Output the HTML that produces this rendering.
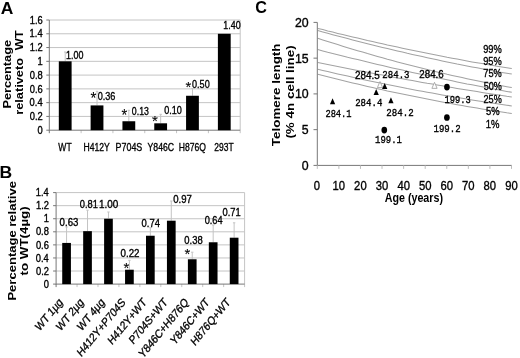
<!DOCTYPE html>
<html><head><meta charset="utf-8"><style>
html,body{margin:0;padding:0;background:#fff;}
svg{display:block;filter:grayscale(1);}
</style></head><body>
<svg width="520" height="358" viewBox="0 0 520 358" shape-rendering="auto">
<rect width="520" height="358" fill="#fff"/>
<text transform="translate(0.86,13.60) scale(1.066,1)" font-size="16.38" font-weight="bold" font-family='"Liberation Sans", sans-serif' fill="#000">A</text>
<line x1="49.30" y1="116.42" x2="240.20" y2="116.42" stroke="#c4c4c4" stroke-width="1.0"/>
<line x1="49.30" y1="102.65" x2="240.20" y2="102.65" stroke="#c4c4c4" stroke-width="1.0"/>
<line x1="49.30" y1="88.88" x2="240.20" y2="88.88" stroke="#c4c4c4" stroke-width="1.0"/>
<line x1="49.30" y1="75.10" x2="240.20" y2="75.10" stroke="#c4c4c4" stroke-width="1.0"/>
<line x1="49.30" y1="61.33" x2="240.20" y2="61.33" stroke="#c4c4c4" stroke-width="1.0"/>
<line x1="49.30" y1="47.55" x2="240.20" y2="47.55" stroke="#c4c4c4" stroke-width="1.0"/>
<line x1="49.30" y1="33.78" x2="240.20" y2="33.78" stroke="#c4c4c4" stroke-width="1.0"/>
<line x1="49.30" y1="20.00" x2="240.20" y2="20.00" stroke="#c4c4c4" stroke-width="1.0"/>
<line x1="240.20" y1="20.00" x2="240.20" y2="130.20" stroke="#c4c4c4" stroke-width="1.0"/>
<line x1="46.30" y1="130.20" x2="49.30" y2="130.20" stroke="#777777" stroke-width="1.0"/>
<line x1="46.30" y1="116.42" x2="49.30" y2="116.42" stroke="#777777" stroke-width="1.0"/>
<line x1="46.30" y1="102.65" x2="49.30" y2="102.65" stroke="#777777" stroke-width="1.0"/>
<line x1="46.30" y1="88.88" x2="49.30" y2="88.88" stroke="#777777" stroke-width="1.0"/>
<line x1="46.30" y1="75.10" x2="49.30" y2="75.10" stroke="#777777" stroke-width="1.0"/>
<line x1="46.30" y1="61.33" x2="49.30" y2="61.33" stroke="#777777" stroke-width="1.0"/>
<line x1="46.30" y1="47.55" x2="49.30" y2="47.55" stroke="#777777" stroke-width="1.0"/>
<line x1="46.30" y1="33.78" x2="49.30" y2="33.78" stroke="#777777" stroke-width="1.0"/>
<line x1="46.30" y1="20.00" x2="49.30" y2="20.00" stroke="#777777" stroke-width="1.0"/>
<text transform="translate(37.45,133.86) scale(0.880,1)" font-size="10.60" font-weight="normal" font-family='"Liberation Sans", sans-serif' fill="#000" stroke="#000" stroke-width="0.35">0</text>
<text transform="translate(29.80,120.08) scale(0.880,1)" font-size="10.60" font-weight="normal" font-family='"Liberation Sans", sans-serif' fill="#000" stroke="#000" stroke-width="0.35">0.2</text>
<text transform="translate(29.61,106.31) scale(0.880,1)" font-size="10.60" font-weight="normal" font-family='"Liberation Sans", sans-serif' fill="#000" stroke="#000" stroke-width="0.35">0.4</text>
<text transform="translate(29.71,92.53) scale(0.880,1)" font-size="10.60" font-weight="normal" font-family='"Liberation Sans", sans-serif' fill="#000" stroke="#000" stroke-width="0.35">0.6</text>
<text transform="translate(29.71,78.76) scale(0.880,1)" font-size="10.60" font-weight="normal" font-family='"Liberation Sans", sans-serif' fill="#000" stroke="#000" stroke-width="0.35">0.8</text>
<text transform="translate(37.54,64.98) scale(0.880,1)" font-size="10.60" font-weight="normal" font-family='"Liberation Sans", sans-serif' fill="#000" stroke="#000" stroke-width="0.35">1</text>
<text transform="translate(29.80,51.26) scale(0.880,1)" font-size="10.60" font-weight="normal" font-family='"Liberation Sans", sans-serif' fill="#000" stroke="#000" stroke-width="0.35">1.2</text>
<text transform="translate(29.61,37.43) scale(0.880,1)" font-size="10.60" font-weight="normal" font-family='"Liberation Sans", sans-serif' fill="#000" stroke="#000" stroke-width="0.35">1.4</text>
<text transform="translate(29.71,23.66) scale(0.880,1)" font-size="10.60" font-weight="normal" font-family='"Liberation Sans", sans-serif' fill="#000" stroke="#000" stroke-width="0.35">1.6</text>
<line x1="49.30" y1="130.20" x2="49.30" y2="133.20" stroke="#777777" stroke-width="1.0"/>
<line x1="81.12" y1="130.20" x2="81.12" y2="133.20" stroke="#c4c4c4" stroke-width="1.0"/>
<line x1="112.93" y1="130.20" x2="112.93" y2="133.20" stroke="#c4c4c4" stroke-width="1.0"/>
<line x1="144.75" y1="130.20" x2="144.75" y2="133.20" stroke="#c4c4c4" stroke-width="1.0"/>
<line x1="176.57" y1="130.20" x2="176.57" y2="133.20" stroke="#c4c4c4" stroke-width="1.0"/>
<line x1="208.38" y1="130.20" x2="208.38" y2="133.20" stroke="#c4c4c4" stroke-width="1.0"/>
<line x1="240.20" y1="130.20" x2="240.20" y2="133.20" stroke="#c4c4c4" stroke-width="1.0"/>
<line x1="49.30" y1="20.00" x2="49.30" y2="130.70" stroke="#777777" stroke-width="1.0"/>
<line x1="49.30" y1="130.20" x2="240.20" y2="130.20" stroke="#777777" stroke-width="1.0"/>
<line x1="65.21" y1="52.00" x2="65.21" y2="61.33" stroke="#c4c4c4" stroke-width="1.0"/>
<line x1="64.01" y1="52.00" x2="66.41" y2="52.00" stroke="#c4c4c4" stroke-width="1.0"/>
<rect x="58.81" y="61.33" width="12.80" height="68.87" fill="#000"/>
<line x1="97.02" y1="91.30" x2="97.02" y2="105.41" stroke="#c4c4c4" stroke-width="1.0"/>
<line x1="95.82" y1="91.30" x2="98.22" y2="91.30" stroke="#c4c4c4" stroke-width="1.0"/>
<rect x="90.62" y="105.41" width="12.80" height="24.79" fill="#000"/>
<line x1="128.84" y1="110.30" x2="128.84" y2="121.25" stroke="#c4c4c4" stroke-width="1.0"/>
<line x1="127.64" y1="110.30" x2="130.04" y2="110.30" stroke="#c4c4c4" stroke-width="1.0"/>
<rect x="122.44" y="121.25" width="12.80" height="8.95" fill="#000"/>
<line x1="160.66" y1="114.30" x2="160.66" y2="123.31" stroke="#c4c4c4" stroke-width="1.0"/>
<line x1="159.46" y1="114.30" x2="161.86" y2="114.30" stroke="#c4c4c4" stroke-width="1.0"/>
<rect x="154.26" y="123.31" width="12.80" height="6.89" fill="#000"/>
<line x1="192.47" y1="88.50" x2="192.47" y2="95.76" stroke="#c4c4c4" stroke-width="1.0"/>
<line x1="191.27" y1="88.50" x2="193.67" y2="88.50" stroke="#c4c4c4" stroke-width="1.0"/>
<rect x="186.07" y="95.76" width="12.80" height="34.44" fill="#000"/>
<rect x="217.89" y="33.78" width="12.80" height="96.42" fill="#000"/>
<text transform="translate(66.03,58.79) scale(0.859,1)" font-size="10.40" font-weight="normal" font-family='"Liberation Sans", sans-serif' fill="#000" stroke="#000" stroke-width="0.35">1.00</text>
<text transform="translate(97.64,99.74) scale(0.876,1)" font-size="10.40" font-weight="normal" font-family='"Liberation Sans", sans-serif' fill="#000" stroke="#000" stroke-width="0.35">0.36</text>
<text transform="translate(131.85,114.69) scale(0.840,1)" font-size="10.40" font-weight="normal" font-family='"Liberation Sans", sans-serif' fill="#000" stroke="#000" stroke-width="0.35">0.13</text>
<text transform="translate(164.14,114.39) scale(0.874,1)" font-size="10.40" font-weight="normal" font-family='"Liberation Sans", sans-serif' fill="#000" stroke="#000" stroke-width="0.35">0.10</text>
<text transform="translate(192.04,87.64) scale(0.874,1)" font-size="10.40" font-weight="normal" font-family='"Liberation Sans", sans-serif' fill="#000" stroke="#000" stroke-width="0.35">0.50</text>
<text transform="translate(223.33,28.79) scale(0.854,1)" font-size="10.40" font-weight="normal" font-family='"Liberation Sans", sans-serif' fill="#000" stroke="#000" stroke-width="0.35">1.40</text>
<text transform="translate(90.38,103.84) scale(0.955,1)" font-size="15.71" font-weight="normal" font-family='"Liberation Sans", sans-serif' fill="#000" stroke="#000" stroke-width="0.1">*</text>
<text transform="translate(121.48,120.74) scale(0.937,1)" font-size="15.71" font-weight="normal" font-family='"Liberation Sans", sans-serif' fill="#000" stroke="#000" stroke-width="0.1">*</text>
<text transform="translate(152.08,125.85) scale(1.010,1)" font-size="14.86" font-weight="normal" font-family='"Liberation Sans", sans-serif' fill="#000" stroke="#000" stroke-width="0.1">*</text>
<text transform="translate(185.38,92.05) scale(0.991,1)" font-size="14.86" font-weight="normal" font-family='"Liberation Sans", sans-serif' fill="#000" stroke="#000" stroke-width="0.1">*</text>
<text transform="translate(58.36,150.69) scale(0.745,1)" font-size="11.50" font-weight="normal" font-family='"Liberation Sans", sans-serif' fill="#000" stroke="#000" stroke-width="0.35">WT</text>
<text transform="translate(83.41,150.80) scale(0.750,1)" font-size="11.50" font-weight="normal" font-family='"Liberation Sans", sans-serif' fill="#000" stroke="#000" stroke-width="0.35">H412Y</text>
<text transform="translate(115.54,150.80) scale(0.776,1)" font-size="11.50" font-weight="normal" font-family='"Liberation Sans", sans-serif' fill="#000" stroke="#000" stroke-width="0.35">P704S</text>
<text transform="translate(147.53,150.80) scale(0.755,1)" font-size="11.50" font-weight="normal" font-family='"Liberation Sans", sans-serif' fill="#000" stroke="#000" stroke-width="0.35">Y846C</text>
<text transform="translate(178.71,150.80) scale(0.749,1)" font-size="11.50" font-weight="normal" font-family='"Liberation Sans", sans-serif' fill="#000" stroke="#000" stroke-width="0.35">H876Q</text>
<text transform="translate(214.33,150.80) scale(0.738,1)" font-size="11.50" font-weight="normal" font-family='"Liberation Sans", sans-serif' fill="#000" stroke="#000" stroke-width="0.35">293T</text>
<text transform="translate(10.80,108.60) scale(0.860,1) rotate(-90) scale(1.000,1)" text-anchor="start" font-size="12.75" font-weight="bold" font-family='"Liberation Sans", sans-serif' fill="#000">Percentage</text>
<text transform="translate(23.00,114.70) scale(0.860,1) rotate(-90) scale(1.000,1)" text-anchor="start" font-size="12.75" font-weight="bold" font-family='"Liberation Sans", sans-serif' fill="#000">relativeto</text>
<text transform="translate(23.00,50.30) scale(0.860,1) rotate(-90) scale(1.000,1)" text-anchor="start" font-size="12.75" font-weight="bold" font-family='"Liberation Sans", sans-serif' fill="#000">WT</text>
<text transform="translate(-0.54,177.60) scale(1.071,1)" font-size="16.38" font-weight="bold" font-family='"Liberation Sans", sans-serif' fill="#000">B</text>
<line x1="56.10" y1="271.03" x2="244.60" y2="271.03" stroke="#c4c4c4" stroke-width="1.0"/>
<line x1="56.10" y1="257.96" x2="244.60" y2="257.96" stroke="#c4c4c4" stroke-width="1.0"/>
<line x1="56.10" y1="244.89" x2="244.60" y2="244.89" stroke="#c4c4c4" stroke-width="1.0"/>
<line x1="56.10" y1="231.81" x2="244.60" y2="231.81" stroke="#c4c4c4" stroke-width="1.0"/>
<line x1="56.10" y1="218.74" x2="244.60" y2="218.74" stroke="#c4c4c4" stroke-width="1.0"/>
<line x1="56.10" y1="205.67" x2="244.60" y2="205.67" stroke="#c4c4c4" stroke-width="1.0"/>
<line x1="56.10" y1="192.60" x2="244.60" y2="192.60" stroke="#c4c4c4" stroke-width="1.0"/>
<line x1="244.60" y1="192.60" x2="244.60" y2="284.10" stroke="#c4c4c4" stroke-width="1.0"/>
<line x1="53.10" y1="284.10" x2="56.10" y2="284.10" stroke="#777777" stroke-width="1.0"/>
<line x1="53.10" y1="271.03" x2="56.10" y2="271.03" stroke="#777777" stroke-width="1.0"/>
<line x1="53.10" y1="257.96" x2="56.10" y2="257.96" stroke="#777777" stroke-width="1.0"/>
<line x1="53.10" y1="244.89" x2="56.10" y2="244.89" stroke="#777777" stroke-width="1.0"/>
<line x1="53.10" y1="231.81" x2="56.10" y2="231.81" stroke="#777777" stroke-width="1.0"/>
<line x1="53.10" y1="218.74" x2="56.10" y2="218.74" stroke="#777777" stroke-width="1.0"/>
<line x1="53.10" y1="205.67" x2="56.10" y2="205.67" stroke="#777777" stroke-width="1.0"/>
<line x1="53.10" y1="192.60" x2="56.10" y2="192.60" stroke="#777777" stroke-width="1.0"/>
<text transform="translate(43.65,287.76) scale(0.880,1)" font-size="10.60" font-weight="normal" font-family='"Liberation Sans", sans-serif' fill="#000" stroke="#000" stroke-width="0.35">0</text>
<text transform="translate(36.00,274.69) scale(0.880,1)" font-size="10.60" font-weight="normal" font-family='"Liberation Sans", sans-serif' fill="#000" stroke="#000" stroke-width="0.35">0.2</text>
<text transform="translate(35.81,261.61) scale(0.880,1)" font-size="10.60" font-weight="normal" font-family='"Liberation Sans", sans-serif' fill="#000" stroke="#000" stroke-width="0.35">0.4</text>
<text transform="translate(35.91,248.54) scale(0.880,1)" font-size="10.60" font-weight="normal" font-family='"Liberation Sans", sans-serif' fill="#000" stroke="#000" stroke-width="0.35">0.6</text>
<text transform="translate(35.91,235.47) scale(0.880,1)" font-size="10.60" font-weight="normal" font-family='"Liberation Sans", sans-serif' fill="#000" stroke="#000" stroke-width="0.35">0.8</text>
<text transform="translate(43.74,222.40) scale(0.880,1)" font-size="10.60" font-weight="normal" font-family='"Liberation Sans", sans-serif' fill="#000" stroke="#000" stroke-width="0.35">1</text>
<text transform="translate(36.00,209.38) scale(0.880,1)" font-size="10.60" font-weight="normal" font-family='"Liberation Sans", sans-serif' fill="#000" stroke="#000" stroke-width="0.35">1.2</text>
<text transform="translate(35.81,196.26) scale(0.880,1)" font-size="10.60" font-weight="normal" font-family='"Liberation Sans", sans-serif' fill="#000" stroke="#000" stroke-width="0.35">1.4</text>
<line x1="56.10" y1="284.10" x2="56.10" y2="287.10" stroke="#777777" stroke-width="1.0"/>
<line x1="77.04" y1="284.10" x2="77.04" y2="287.10" stroke="#c4c4c4" stroke-width="1.0"/>
<line x1="97.99" y1="284.10" x2="97.99" y2="287.10" stroke="#c4c4c4" stroke-width="1.0"/>
<line x1="118.93" y1="284.10" x2="118.93" y2="287.10" stroke="#c4c4c4" stroke-width="1.0"/>
<line x1="139.88" y1="284.10" x2="139.88" y2="287.10" stroke="#c4c4c4" stroke-width="1.0"/>
<line x1="160.82" y1="284.10" x2="160.82" y2="287.10" stroke="#c4c4c4" stroke-width="1.0"/>
<line x1="181.77" y1="284.10" x2="181.77" y2="287.10" stroke="#c4c4c4" stroke-width="1.0"/>
<line x1="202.71" y1="284.10" x2="202.71" y2="287.10" stroke="#c4c4c4" stroke-width="1.0"/>
<line x1="223.66" y1="284.10" x2="223.66" y2="287.10" stroke="#c4c4c4" stroke-width="1.0"/>
<line x1="244.60" y1="284.10" x2="244.60" y2="287.10" stroke="#c4c4c4" stroke-width="1.0"/>
<line x1="56.10" y1="192.60" x2="56.10" y2="284.60" stroke="#777777" stroke-width="1.0"/>
<line x1="56.10" y1="284.10" x2="244.60" y2="284.10" stroke="#777777" stroke-width="1.0"/>
<line x1="66.57" y1="227.00" x2="66.57" y2="242.93" stroke="#c4c4c4" stroke-width="1.0"/>
<line x1="65.37" y1="227.00" x2="67.77" y2="227.00" stroke="#c4c4c4" stroke-width="1.0"/>
<rect x="62.22" y="242.93" width="8.70" height="41.18" fill="#000"/>
<line x1="87.52" y1="210.20" x2="87.52" y2="231.16" stroke="#c4c4c4" stroke-width="1.0"/>
<line x1="86.32" y1="210.20" x2="88.72" y2="210.20" stroke="#c4c4c4" stroke-width="1.0"/>
<rect x="83.17" y="231.16" width="8.70" height="52.94" fill="#000"/>
<line x1="108.46" y1="212.00" x2="108.46" y2="218.74" stroke="#c4c4c4" stroke-width="1.0"/>
<line x1="107.26" y1="212.00" x2="109.66" y2="212.00" stroke="#c4c4c4" stroke-width="1.0"/>
<rect x="104.11" y="218.74" width="8.70" height="65.36" fill="#000"/>
<line x1="129.41" y1="260.30" x2="129.41" y2="269.72" stroke="#c4c4c4" stroke-width="1.0"/>
<line x1="128.21" y1="260.30" x2="130.61" y2="260.30" stroke="#c4c4c4" stroke-width="1.0"/>
<rect x="125.06" y="269.72" width="8.70" height="14.38" fill="#000"/>
<line x1="150.35" y1="227.70" x2="150.35" y2="235.74" stroke="#c4c4c4" stroke-width="1.0"/>
<line x1="149.15" y1="227.70" x2="151.55" y2="227.70" stroke="#c4c4c4" stroke-width="1.0"/>
<rect x="146.00" y="235.74" width="8.70" height="48.36" fill="#000"/>
<line x1="171.29" y1="201.00" x2="171.29" y2="220.70" stroke="#c4c4c4" stroke-width="1.0"/>
<line x1="170.09" y1="201.00" x2="172.49" y2="201.00" stroke="#c4c4c4" stroke-width="1.0"/>
<rect x="166.94" y="220.70" width="8.70" height="63.40" fill="#000"/>
<line x1="192.24" y1="252.20" x2="192.24" y2="259.26" stroke="#c4c4c4" stroke-width="1.0"/>
<line x1="191.04" y1="252.20" x2="193.44" y2="252.20" stroke="#c4c4c4" stroke-width="1.0"/>
<rect x="187.89" y="259.26" width="8.70" height="24.84" fill="#000"/>
<line x1="213.18" y1="225.00" x2="213.18" y2="242.27" stroke="#c4c4c4" stroke-width="1.0"/>
<line x1="211.98" y1="225.00" x2="214.38" y2="225.00" stroke="#c4c4c4" stroke-width="1.0"/>
<rect x="208.83" y="242.27" width="8.70" height="41.83" fill="#000"/>
<line x1="234.13" y1="222.80" x2="234.13" y2="237.70" stroke="#c4c4c4" stroke-width="1.0"/>
<line x1="232.93" y1="222.80" x2="235.33" y2="222.80" stroke="#c4c4c4" stroke-width="1.0"/>
<rect x="229.78" y="237.70" width="8.70" height="46.40" fill="#000"/>
<text transform="translate(59.61,225.96) scale(0.911,1)" font-size="10.60" font-weight="normal" font-family='"Liberation Sans", sans-serif' fill="#000" stroke="#000" stroke-width="0.35">0.63</text>
<text transform="translate(79.83,208.21) scale(0.877,1)" font-size="10.60" font-weight="normal" font-family='"Liberation Sans", sans-serif' fill="#000" stroke="#000" stroke-width="0.35">0.81</text>
<text transform="translate(98.96,207.66) scale(0.936,1)" font-size="10.60" font-weight="normal" font-family='"Liberation Sans", sans-serif' fill="#000" stroke="#000" stroke-width="0.35">1.00</text>
<text transform="translate(120.51,256.66) scale(0.921,1)" font-size="10.60" font-weight="normal" font-family='"Liberation Sans", sans-serif' fill="#000" stroke="#000" stroke-width="0.35">0.22</text>
<text transform="translate(141.62,226.91) scale(0.891,1)" font-size="10.60" font-weight="normal" font-family='"Liberation Sans", sans-serif' fill="#000" stroke="#000" stroke-width="0.35">0.74</text>
<text transform="translate(173.22,202.86) scale(0.905,1)" font-size="10.60" font-weight="normal" font-family='"Liberation Sans", sans-serif' fill="#000" stroke="#000" stroke-width="0.35">0.97</text>
<text transform="translate(184.32,243.86) scale(0.890,1)" font-size="10.60" font-weight="normal" font-family='"Liberation Sans", sans-serif' fill="#000" stroke="#000" stroke-width="0.35">0.38</text>
<text transform="translate(204.63,223.66) scale(0.870,1)" font-size="10.60" font-weight="normal" font-family='"Liberation Sans", sans-serif' fill="#000" stroke="#000" stroke-width="0.35">0.64</text>
<text transform="translate(222.53,216.46) scale(0.883,1)" font-size="10.60" font-weight="normal" font-family='"Liberation Sans", sans-serif' fill="#000" stroke="#000" stroke-width="0.35">0.71</text>
<text transform="translate(123.48,272.65) scale(0.954,1)" font-size="15.43" font-weight="normal" font-family='"Liberation Sans", sans-serif' fill="#000" stroke="#000" stroke-width="0.1">*</text>
<text transform="translate(184.48,259.35) scale(0.972,1)" font-size="15.14" font-weight="normal" font-family='"Liberation Sans", sans-serif' fill="#000" stroke="#000" stroke-width="0.1">*</text>
<text transform="translate(63.30,302.97) scale(0.840,1) rotate(-45.5) scale(0.945,1)" text-anchor="end" font-size="12.17" font-weight="normal" font-family='"Liberation Sans", sans-serif' fill="#000" stroke="#000" stroke-width="0.35">WT 1µg</text>
<text transform="translate(84.25,302.97) scale(0.840,1) rotate(-45.5) scale(0.945,1)" text-anchor="end" font-size="12.17" font-weight="normal" font-family='"Liberation Sans", sans-serif' fill="#000" stroke="#000" stroke-width="0.35">WT 2µg</text>
<text transform="translate(105.19,302.97) scale(0.840,1) rotate(-45.5) scale(0.945,1)" text-anchor="end" font-size="12.17" font-weight="normal" font-family='"Liberation Sans", sans-serif' fill="#000" stroke="#000" stroke-width="0.35">WT 4µg</text>
<text transform="translate(126.14,302.97) scale(0.840,1) rotate(-45.5) scale(0.945,1)" text-anchor="end" font-size="12.17" font-weight="normal" font-family='"Liberation Sans", sans-serif' fill="#000" stroke="#000" stroke-width="0.35">H412Y+P704S</text>
<text transform="translate(147.08,302.97) scale(0.840,1) rotate(-45.5) scale(0.945,1)" text-anchor="end" font-size="12.17" font-weight="normal" font-family='"Liberation Sans", sans-serif' fill="#000" stroke="#000" stroke-width="0.35">H412Y+WT</text>
<text transform="translate(168.02,302.97) scale(0.840,1) rotate(-45.5) scale(0.945,1)" text-anchor="end" font-size="12.17" font-weight="normal" font-family='"Liberation Sans", sans-serif' fill="#000" stroke="#000" stroke-width="0.35">P704S+WT</text>
<text transform="translate(188.97,302.97) scale(0.840,1) rotate(-45.5) scale(0.945,1)" text-anchor="end" font-size="12.17" font-weight="normal" font-family='"Liberation Sans", sans-serif' fill="#000" stroke="#000" stroke-width="0.35">Y846C+H876Q</text>
<text transform="translate(209.91,302.97) scale(0.840,1) rotate(-45.5) scale(0.945,1)" text-anchor="end" font-size="12.17" font-weight="normal" font-family='"Liberation Sans", sans-serif' fill="#000" stroke="#000" stroke-width="0.35">Y846C+WT</text>
<text transform="translate(230.86,302.97) scale(0.840,1) rotate(-45.5) scale(0.945,1)" text-anchor="end" font-size="12.17" font-weight="normal" font-family='"Liberation Sans", sans-serif' fill="#000" stroke="#000" stroke-width="0.35">H876Q+WT</text>
<text transform="translate(15.90,300.60) scale(0.860,1) rotate(-90) scale(1.000,1)" text-anchor="start" font-size="13.05" font-weight="bold" font-family='"Liberation Sans", sans-serif' fill="#000">Percentage relative</text>
<text transform="translate(28.40,275.50) scale(0.850,1) rotate(-90) scale(1.000,1)" text-anchor="start" font-size="13.35" font-weight="bold" font-family='"Liberation Sans", sans-serif' fill="#000">to WT(4µg)</text>
<text transform="translate(255.15,12.83) scale(0.950,1)" font-size="17.04" font-weight="bold" font-family='"Liberation Sans", sans-serif' fill="#000">C</text>
<path d="M317.8,28.4 L322.8,29.6 L327.7,30.9 L332.7,32.1 L337.7,33.4 L342.7,34.6 L347.6,35.8 L352.6,37.0 L357.6,38.1 L362.6,39.3 L367.5,40.5 L372.5,41.6 L377.5,42.7 L382.5,43.8 L387.4,45.0 L392.4,46.0 L397.4,47.1 L402.4,48.2 L407.3,49.2 L412.3,50.3 L417.3,51.3 L422.3,52.3 L427.2,53.3 L432.2,54.3 L437.2,55.3 L442.2,56.3 L447.1,57.3 L452.1,58.2 L457.1,59.1 L462.1,60.1 L467.0,61.0 L472.0,61.9 L477.0,62.7 L482.0,63.6 L486.9,64.5 L491.9,65.3 L496.9,66.2 L501.9,67.0 L506.8,67.8 L511.8,68.6" fill="none" stroke="#a2a2a2" stroke-width="1.05"/>
<path d="M317.8,30.6 L322.8,31.9 L327.7,33.3 L332.7,34.7 L337.7,36.0 L342.7,37.3 L347.6,38.6 L352.6,39.9 L357.6,41.2 L362.6,42.5 L367.5,43.7 L372.5,45.0 L377.5,46.2 L382.5,47.4 L387.4,48.6 L392.4,49.8 L397.4,51.0 L402.4,52.1 L407.3,53.3 L412.3,54.4 L417.3,55.5 L422.3,56.6 L427.2,57.7 L432.2,58.8 L437.2,59.8 L442.2,60.9 L447.1,61.9 L452.1,62.9 L457.1,64.0 L462.1,64.9 L467.0,65.9 L472.0,66.9 L477.0,67.8 L482.0,68.8 L486.9,69.7 L491.9,70.6 L496.9,71.5 L501.9,72.4 L506.8,73.2 L511.8,74.1" fill="none" stroke="#a2a2a2" stroke-width="1.05"/>
<path d="M317.8,38.3 L322.8,39.9 L327.7,41.5 L332.7,43.1 L337.7,44.6 L342.7,46.2 L347.6,47.7 L352.6,49.2 L357.6,50.7 L362.6,52.1 L367.5,53.6 L372.5,55.0 L377.5,56.4 L382.5,57.8 L387.4,59.2 L392.4,60.5 L397.4,61.9 L402.4,63.2 L407.3,64.5 L412.3,65.8 L417.3,67.0 L422.3,68.3 L427.2,69.5 L432.2,70.7 L437.2,71.9 L442.2,73.1 L447.1,74.3 L452.1,75.4 L457.1,76.5 L462.1,77.6 L467.0,78.7 L472.0,79.8 L477.0,80.8 L482.0,81.8 L486.9,82.9 L491.9,83.9 L496.9,84.8 L501.9,85.8 L506.8,86.7 L511.8,87.6" fill="none" stroke="#a2a2a2" stroke-width="1.05"/>
<path d="M317.8,49.6 L322.8,50.9 L327.7,52.2 L332.7,53.4 L337.7,54.7 L342.7,55.9 L347.6,57.2 L352.6,58.4 L357.6,59.6 L362.6,60.8 L367.5,62.0 L372.5,63.2 L377.5,64.4 L382.5,65.6 L387.4,66.7 L392.4,67.9 L397.4,69.0 L402.4,70.1 L407.3,71.3 L412.3,72.4 L417.3,73.5 L422.3,74.5 L427.2,75.6 L432.2,76.7 L437.2,77.7 L442.2,78.8 L447.1,79.8 L452.1,80.8 L457.1,81.9 L462.1,82.9 L467.0,83.9 L472.0,84.8 L477.0,85.8 L482.0,86.8 L486.9,87.7 L491.9,88.7 L496.9,89.6 L501.9,90.5 L506.8,91.4 L511.8,92.3" fill="none" stroke="#a2a2a2" stroke-width="1.05"/>
<path d="M317.8,62.4 L322.8,63.4 L327.7,64.4 L332.7,65.4 L337.7,66.4 L342.7,67.4 L347.6,68.4 L352.6,69.4 L357.6,70.4 L362.6,71.3 L367.5,72.3 L372.5,73.3 L377.5,74.2 L382.5,75.1 L387.4,76.1 L392.4,77.0 L397.4,77.9 L402.4,78.8 L407.3,79.7 L412.3,80.6 L417.3,81.5 L422.3,82.4 L427.2,83.3 L432.2,84.1 L437.2,85.0 L442.2,85.8 L447.1,86.7 L452.1,87.5 L457.1,88.4 L462.1,89.2 L467.0,90.0 L472.0,90.8 L477.0,91.6 L482.0,92.4 L486.9,93.2 L491.9,94.0 L496.9,94.8 L501.9,95.5 L506.8,96.3 L511.8,97.0" fill="none" stroke="#a2a2a2" stroke-width="1.05"/>
<path d="M317.8,69.3 L322.8,70.5 L327.7,71.6 L332.7,72.8 L337.7,73.9 L342.7,75.0 L347.6,76.1 L352.6,77.2 L357.6,78.3 L362.6,79.4 L367.5,80.4 L372.5,81.5 L377.5,82.5 L382.5,83.5 L387.4,84.5 L392.4,85.5 L397.4,86.5 L402.4,87.5 L407.3,88.5 L412.3,89.4 L417.3,90.4 L422.3,91.3 L427.2,92.2 L432.2,93.1 L437.2,94.0 L442.2,94.9 L447.1,95.7 L452.1,96.6 L457.1,97.4 L462.1,98.3 L467.0,99.1 L472.0,99.9 L477.0,100.7 L482.0,101.5 L486.9,102.2 L491.9,103.0 L496.9,103.8 L501.9,104.5 L506.8,105.2 L511.8,105.9" fill="none" stroke="#a2a2a2" stroke-width="1.05"/>
<path d="M317.8,74.3 L322.8,75.5 L327.7,76.8 L332.7,78.1 L337.7,79.3 L342.7,80.5 L347.6,81.7 L352.6,82.9 L357.6,84.1 L362.6,85.3 L367.5,86.4 L372.5,87.5 L377.5,88.7 L382.5,89.8 L387.4,90.9 L392.4,91.9 L397.4,93.0 L402.4,94.1 L407.3,95.1 L412.3,96.1 L417.3,97.1 L422.3,98.1 L427.2,99.1 L432.2,100.1 L437.2,101.0 L442.2,101.9 L447.1,102.9 L452.1,103.8 L457.1,104.7 L462.1,105.5 L467.0,106.4 L472.0,107.3 L477.0,108.1 L482.0,108.9 L486.9,109.7 L491.9,110.5 L496.9,111.3 L501.9,112.0 L506.8,112.8 L511.8,113.5" fill="none" stroke="#a2a2a2" stroke-width="1.05"/>
<line x1="317.30" y1="22.40" x2="317.30" y2="165.90" stroke="#777777" stroke-width="1.0"/>
<line x1="317.30" y1="165.40" x2="511.80" y2="165.40" stroke="#777777" stroke-width="1.0"/>
<line x1="313.50" y1="165.40" x2="317.30" y2="165.40" stroke="#777777" stroke-width="1.0"/>
<line x1="313.50" y1="129.65" x2="317.30" y2="129.65" stroke="#777777" stroke-width="1.0"/>
<line x1="313.50" y1="93.90" x2="317.30" y2="93.90" stroke="#777777" stroke-width="1.0"/>
<line x1="313.50" y1="58.15" x2="317.30" y2="58.15" stroke="#777777" stroke-width="1.0"/>
<line x1="313.50" y1="22.40" x2="317.30" y2="22.40" stroke="#777777" stroke-width="1.0"/>
<line x1="317.30" y1="165.40" x2="317.30" y2="168.90" stroke="#bdbdbd" stroke-width="1.0"/>
<line x1="338.88" y1="165.40" x2="338.88" y2="168.90" stroke="#bdbdbd" stroke-width="1.0"/>
<line x1="360.46" y1="165.40" x2="360.46" y2="168.90" stroke="#bdbdbd" stroke-width="1.0"/>
<line x1="382.03" y1="165.40" x2="382.03" y2="168.90" stroke="#bdbdbd" stroke-width="1.0"/>
<line x1="403.61" y1="165.40" x2="403.61" y2="168.90" stroke="#bdbdbd" stroke-width="1.0"/>
<line x1="425.19" y1="165.40" x2="425.19" y2="168.90" stroke="#bdbdbd" stroke-width="1.0"/>
<line x1="446.77" y1="165.40" x2="446.77" y2="168.90" stroke="#bdbdbd" stroke-width="1.0"/>
<line x1="468.34" y1="165.40" x2="468.34" y2="168.90" stroke="#bdbdbd" stroke-width="1.0"/>
<line x1="489.92" y1="165.40" x2="489.92" y2="168.90" stroke="#bdbdbd" stroke-width="1.0"/>
<line x1="511.50" y1="165.40" x2="511.50" y2="168.90" stroke="#bdbdbd" stroke-width="1.0"/>
<text transform="translate(301.78,169.88) scale(0.950,1)" font-size="13.00" font-weight="normal" font-family='"Liberation Sans", sans-serif' fill="#000" stroke="#000" stroke-width="0.35">0</text>
<text transform="translate(301.84,134.07) scale(0.950,1)" font-size="13.00" font-weight="normal" font-family='"Liberation Sans", sans-serif' fill="#000" stroke="#000" stroke-width="0.35">5</text>
<text transform="translate(294.92,98.39) scale(0.950,1)" font-size="13.00" font-weight="normal" font-family='"Liberation Sans", sans-serif' fill="#000" stroke="#000" stroke-width="0.35">10</text>
<text transform="translate(294.99,62.57) scale(0.950,1)" font-size="13.00" font-weight="normal" font-family='"Liberation Sans", sans-serif' fill="#000" stroke="#000" stroke-width="0.35">15</text>
<text transform="translate(294.92,26.89) scale(0.950,1)" font-size="13.00" font-weight="normal" font-family='"Liberation Sans", sans-serif' fill="#000" stroke="#000" stroke-width="0.35">20</text>
<text transform="translate(313.85,190.32) scale(0.880,1)" font-size="12.80" font-weight="normal" font-family='"Liberation Sans", sans-serif' fill="#000" stroke="#000" stroke-width="0.35">0</text>
<text transform="translate(332.40,190.32) scale(0.880,1)" font-size="12.80" font-weight="normal" font-family='"Liberation Sans", sans-serif' fill="#000" stroke="#000" stroke-width="0.35">10</text>
<text transform="translate(354.12,190.32) scale(0.880,1)" font-size="12.80" font-weight="normal" font-family='"Liberation Sans", sans-serif' fill="#000" stroke="#000" stroke-width="0.35">20</text>
<text transform="translate(375.75,190.32) scale(0.880,1)" font-size="12.80" font-weight="normal" font-family='"Liberation Sans", sans-serif' fill="#000" stroke="#000" stroke-width="0.35">30</text>
<text transform="translate(397.44,190.32) scale(0.880,1)" font-size="12.80" font-weight="normal" font-family='"Liberation Sans", sans-serif' fill="#000" stroke="#000" stroke-width="0.35">40</text>
<text transform="translate(418.91,190.32) scale(0.880,1)" font-size="12.80" font-weight="normal" font-family='"Liberation Sans", sans-serif' fill="#000" stroke="#000" stroke-width="0.35">50</text>
<text transform="translate(440.43,190.32) scale(0.880,1)" font-size="12.80" font-weight="normal" font-family='"Liberation Sans", sans-serif' fill="#000" stroke="#000" stroke-width="0.35">60</text>
<text transform="translate(462.01,190.32) scale(0.880,1)" font-size="12.80" font-weight="normal" font-family='"Liberation Sans", sans-serif' fill="#000" stroke="#000" stroke-width="0.35">70</text>
<text transform="translate(483.61,190.32) scale(0.880,1)" font-size="12.80" font-weight="normal" font-family='"Liberation Sans", sans-serif' fill="#000" stroke="#000" stroke-width="0.35">80</text>
<text transform="translate(505.19,190.32) scale(0.880,1)" font-size="12.80" font-weight="normal" font-family='"Liberation Sans", sans-serif' fill="#000" stroke="#000" stroke-width="0.35">90</text>
<text transform="translate(384.73,201.86) scale(0.885,1)" font-size="12.09" font-weight="bold" font-family='"Liberation Sans", sans-serif' fill="#000">Age (years)</text>
<text transform="translate(280.40,146.20) scale(0.830,1) rotate(-90) scale(1.000,1)" text-anchor="start" font-size="13.45" font-weight="bold" font-family='"Liberation Sans", sans-serif' fill="#000">Telomere length</text>
<text transform="translate(294.00,138.60) scale(0.830,1) rotate(-90) scale(1.000,1)" text-anchor="start" font-size="13.45" font-weight="bold" font-family='"Liberation Sans", sans-serif' fill="#000">(% 4n cell line)</text>
<text transform="translate(483.18,52.53) scale(0.858,1)" font-size="10.80" font-weight="normal" font-family='"Liberation Sans", sans-serif' fill="#000" stroke="#000" stroke-width="0.35">99%</text>
<text transform="translate(483.18,64.53) scale(0.858,1)" font-size="10.80" font-weight="normal" font-family='"Liberation Sans", sans-serif' fill="#000" stroke="#000" stroke-width="0.35">95%</text>
<text transform="translate(483.34,77.40) scale(0.851,1)" font-size="10.80" font-weight="normal" font-family='"Liberation Sans", sans-serif' fill="#000" stroke="#000" stroke-width="0.35">75%</text>
<text transform="translate(483.64,90.33) scale(0.837,1)" font-size="10.80" font-weight="normal" font-family='"Liberation Sans", sans-serif' fill="#000" stroke="#000" stroke-width="0.35">50%</text>
<text transform="translate(483.55,102.83) scale(0.841,1)" font-size="10.80" font-weight="normal" font-family='"Liberation Sans", sans-serif' fill="#000" stroke="#000" stroke-width="0.35">25%</text>
<text transform="translate(485.92,115.10) scale(0.872,1)" font-size="10.80" font-weight="normal" font-family='"Liberation Sans", sans-serif' fill="#000" stroke="#000" stroke-width="0.35">5%</text>
<text transform="translate(485.79,127.83) scale(0.881,1)" font-size="10.80" font-weight="normal" font-family='"Liberation Sans", sans-serif' fill="#000" stroke="#000" stroke-width="0.35">1%</text>
<polygon points="332.55,98.25 335.15,104.25 329.95,104.25" fill="#000"/>
<polygon points="376.20,88.90 378.80,94.90 373.60,94.90" fill="#000"/>
<polygon points="380.00,81.55 382.60,87.55 377.40,87.55" fill="#fff" stroke="#9a9a9a" stroke-width="0.8"/>
<polygon points="384.70,83.00 387.30,89.00 382.10,89.00" fill="#000"/>
<polygon points="390.95,97.15 393.55,103.15 388.35,103.15" fill="#000"/>
<polygon points="434.50,82.35 437.10,88.35 431.90,88.35" fill="#fff" stroke="#9a9a9a" stroke-width="0.8"/>
<ellipse cx="384.30" cy="130.10" rx="2.85" ry="3.35" fill="#000"/>
<ellipse cx="446.95" cy="87.10" rx="2.85" ry="3.35" fill="#000"/>
<ellipse cx="446.90" cy="117.50" rx="2.85" ry="3.35" fill="#000"/>
<text transform="translate(325.39,116.98) scale(0.753,1)" font-size="11.62" font-weight="normal" font-family='"Liberation Mono", monospace' fill="#000" stroke="#000" stroke-width="0.35">284.1</text>
<text transform="translate(355.17,105.69) scale(0.856,1)" font-size="10.59" font-weight="normal" font-family='"Liberation Mono", monospace' fill="#000" stroke="#000" stroke-width="0.35">284.4</text>
<text transform="translate(355.01,78.79) scale(0.935,1)" font-size="10.56" font-weight="normal" font-family='"Liberation Sans", sans-serif' fill="#000" stroke="#000" stroke-width="0.35">284.5</text>
<text transform="translate(382.37,78.49) scale(0.809,1)" font-size="11.18" font-weight="normal" font-family='"Liberation Mono", monospace' fill="#000" stroke="#000" stroke-width="0.35">284.3</text>
<text transform="translate(386.26,115.69) scale(0.817,1)" font-size="11.18" font-weight="normal" font-family='"Liberation Mono", monospace' fill="#000" stroke="#000" stroke-width="0.35">284.2</text>
<text transform="translate(419.31,77.80) scale(0.962,1)" font-size="10.14" font-weight="normal" font-family='"Liberation Sans", sans-serif' fill="#000" stroke="#000" stroke-width="0.35">284.6</text>
<text transform="translate(444.59,103.09) scale(0.764,1)" font-size="11.47" font-weight="normal" font-family='"Liberation Mono", monospace' fill="#000" stroke="#000" stroke-width="0.35">199.3</text>
<text transform="translate(433.47,131.59) scale(0.789,1)" font-size="11.47" font-weight="normal" font-family='"Liberation Mono", monospace' fill="#000" stroke="#000" stroke-width="0.35">199.2</text>
<text transform="translate(375.07,142.99) scale(0.781,1)" font-size="11.47" font-weight="normal" font-family='"Liberation Mono", monospace' fill="#000" stroke="#000" stroke-width="0.35">199.1</text>
</svg>
</body></html>
